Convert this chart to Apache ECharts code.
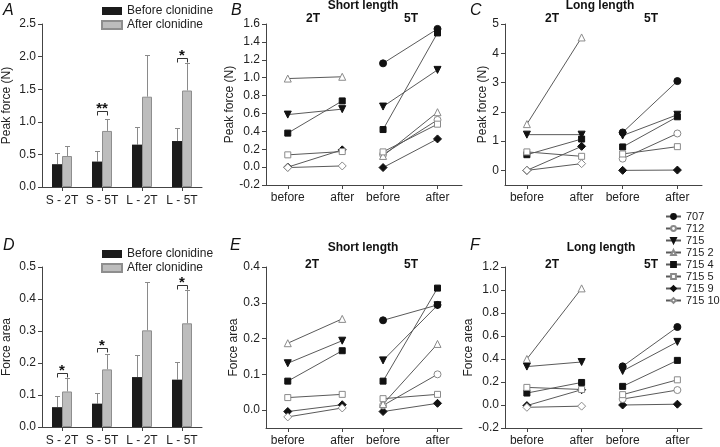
<!DOCTYPE html>
<html><head><meta charset="utf-8">
<script src="https://cdn.jsdelivr.net/npm/echarts@6/dist/echarts.min.js"></script>
<style>html,body{margin:0;padding:0;background:#fff}#c{width:720px;height:447px}</style>
</head><body><div id="c"></div>
<script>
// ---------- data ----------
const barCategories = ['S - 2T', 'S - 5T', 'L - 2T', 'L - 5T'];
const barSeriesNames = ['Before clonidine', 'After clonidine'];
const peakBefore = [0.35, 0.39, 0.65, 0.705];
const peakBeforeErr = [0.17, 0.16, 0.27, 0.205];
const peakAfter = [0.475, 0.86, 1.385, 1.48];
const peakAfterErr = [0.155, 0.19, 0.645, 0.42];
const areaBefore = [0.062, 0.073, 0.156, 0.148];
const areaBeforeErr = [0.034, 0.034, 0.069, 0.056];
const areaAfter = [0.111, 0.18, 0.302, 0.324];
const areaAfterErr = [0.043, 0.048, 0.151, 0.105];
const peakSignifCats = [1, 3];
const peakSignifLevels = [1.17, 1.98];
const peakSignifMarks = ['**', '*'];
const areaSignifCats = [0, 1, 3];
const areaSignifLevels = [0.17, 0.247, 0.444];
const areaSignifMarks = ['*', '*', '*'];

const subjects = ['707', '712', '715', '715 2', '715 4', '715 5', '715 9', '715 10'];
const conditionLabels = ['before', 'after', 'before', 'after'];
const groupLabels = ['2T', '5T'];

// B: short length, peak force
const peakShort2TBefore = [null, null, 0.587, 0.99, 0.38, 0.137, 0.0, -0.005];
const peakShort2TAfter  = [null, null, 0.648, 1.01, 0.74, 0.174, 0.193, 0.013];
const peakShort5TBefore = [1.16, 0.14, 0.677, 0.125, 0.42, 0.17, -0.005, null];
const peakShort5TAfter  = [1.545, 0.528, 1.087, 0.614, 1.50, 0.48, 0.315, null];
// C: long length, peak force
const peakLong2TBefore = [null, null, 1.22, 1.58, 0.535, 0.63, 0.0, 0.0];
const peakLong2TAfter  = [null, null, 1.22, 4.54, 1.07, 0.48, 0.82, 0.23];
const peakLong5TBefore = [1.295, 0.40, 1.19, null, 0.80, 0.56, 0.0, null];
const peakLong5TAfter  = [3.05, 1.26, 1.90, null, 1.83, 0.81, 0.01, null];
// E: short length, force area
const areaShort2TBefore = [null, null, 0.131, 0.187, 0.081, 0.035, -0.004, -0.019];
const areaShort2TAfter  = [null, null, 0.194, 0.255, 0.166, 0.044, 0.015, 0.006];
const areaShort5TBefore = [0.251, 0.013, 0.139, 0.017, 0.081, 0.032, -0.004, null];
const areaShort5TAfter  = [0.294, 0.10, 0.293, 0.185, 0.341, 0.044, 0.019, null];
// F: long length, force area
const areaLong2TBefore = [null, null, 0.334, 0.40, 0.104, 0.153, -0.005, -0.02];
const areaLong2TAfter  = [null, null, 0.374, 1.014, 0.196, 0.135, 0.133, -0.01];
const areaLong5TBefore = [0.336, 0.052, 0.296, null, 0.162, 0.09, 0.0, null];
const areaLong5TAfter  = [0.678, 0.13, 0.549, null, 0.388, 0.219, 0.007, null];

const peakBarTicks = [0, 0.5, 1.0, 1.5, 2.0, 2.5];
const peakShortTicks = [-0.2, 0, 0.2, 0.4, 0.6, 0.8, 1.0, 1.2, 1.4, 1.6];
const peakLongTicks = [0, 1, 2, 3, 4, 5];
const areaBarTicks = [0, 0.1, 0.2, 0.3, 0.4, 0.5];
const areaShortTicks = [0, 0.1, 0.2, 0.3, 0.4];
const areaLongTicks = [-0.2, 0, 0.2, 0.4, 0.6, 0.8, 1.0, 1.2];

// ---------- layout / style ----------
const FONT = "'Liberation Sans', Arial, Helvetica, sans-serif";
const AX = '#444', TXT = '#222';
const xPos = [1, 2, 2.75, 3.75];
const symbolOf = ['circle', 'circle', 'triangle', 'triangle', 'rect', 'rect', 'diamond', 'diamond'];
const filledOf = [true, false, true, false, true, false, true, false];
const rotOf = [0, 0, 180, 0, 0, 0, 0, 0];
const sizeOf = [7, 7, 7, 7, 6, 6, 8, 8];

const grids = [
  {left: 41, top: 24, width: 161, height: 163},
  {left: 266, top: 24, width: 196, height: 161},
  {left: 505, top: 24, width: 197, height: 161},
  {left: 41, top: 267, width: 161, height: 162},
  {left: 266, top: 267, width: 196, height: 162},
  {left: 505, top: 267, width: 197, height: 162}
];

function fmt1(v) { return Math.abs(v) < 1e-9 ? '0.0' : v.toFixed(1); }

function yAx(g, min, max, ticks, name, gap, dec) {
  const f = dec ? fmt1 : (v => String(Math.round(v)));
  return {
    gridIndex: g, type: 'value', min: min, max: max,
    name: name, nameLocation: 'middle', nameGap: gap,
    nameTextStyle: {fontSize: 12, color: TXT, fontFamily: FONT},
    axisLine: {show: true, lineStyle: {color: AX, width: 1}},
    axisTick: {show: true, length: 4, lineStyle: {color: AX}, customValues: ticks},
    axisLabel: {color: TXT, fontSize: 12, fontFamily: FONT, margin: 6, formatter: f, customValues: ticks},
    splitLine: {show: false}
  };
}
function xVal(g) {
  return {
    gridIndex: g, type: 'value', min: 0.6, max: 4.2,
    axisLine: {show: true, onZero: false, lineStyle: {color: AX, width: 1}},
    axisTick: {show: true, length: 4, lineStyle: {color: AX}, customValues: xPos},
    axisLabel: {color: TXT, fontSize: 12, fontFamily: FONT, margin: 7, customValues: xPos,
      formatter: v => { let b = 0; xPos.forEach((p, i) => { if (Math.abs(p - v) < Math.abs(xPos[b] - v)) b = i; }); return conditionLabels[b]; }},
    splitLine: {show: false}
  };
}
function xCat(g) {
  return {
    gridIndex: g, type: 'category', data: barCategories,
    axisLine: {show: true, lineStyle: {color: AX, width: 1}},
    axisTick: {show: true, alignWithLabel: true, interval: 0, length: 4, lineStyle: {color: AX}},
    axisLabel: {color: TXT, fontSize: 12, fontFamily: FONT, margin: 8, interval: 0}
  };
}

const xAxes = [xCat(0), xVal(1), xVal(2), xCat(3), xVal(4), xVal(5)];
const yAxes = [
  yAx(0, 0, 2.5, peakBarTicks, 'Peak force (N)', 29, true),
  yAx(1, -0.2, 1.6, peakShortTicks, 'Peak force (N)', 25, true),
  yAx(2, -0.5, 5, peakLongTicks, 'Peak force (N)', 16, false),
  yAx(3, 0, 0.5, areaBarTicks, 'Force area', 29, true),
  yAx(4, -0.05, 0.4, areaShortTicks, 'Force area', 23, true),
  yAx(5, -0.2, 1.2, areaLongTicks, 'Force area', 23, true)
];

const series = [];
const BAR_W = 10;

function addBars(ax, before, beforeErr, after, afterErr, sCats, sLevels, sMarks) {
  series.push({name: barSeriesNames[0], type: 'bar', xAxisIndex: ax, yAxisIndex: ax, data: before,
    barWidth: BAR_W, barGap: '0%', itemStyle: {color: '#1b1b1b', borderColor: '#1b1b1b', borderWidth: 0}, z: 2});
  series.push({name: barSeriesNames[1], type: 'bar', xAxisIndex: ax, yAxisIndex: ax, data: after,
    barWidth: BAR_W, barGap: '0%', itemStyle: {color: '#bdbdbd', borderColor: '#8e8e8e', borderWidth: 1}, z: 2});
  [[before, beforeErr, -BAR_W / 2], [after, afterErr, BAR_W / 2]].forEach(([m, e, off]) => {
    series.push({type: 'custom', xAxisIndex: ax, yAxisIndex: ax, z: 1, silent: true,
      encode: {x: 0, y: [1, 2]},
      data: m.map((v, i) => [i, v, v + e[i]]),
      renderItem: (params, api) => {
        const p0 = api.coord([api.value(0), api.value(1)]);
        const p1 = api.coord([api.value(0), api.value(2)]);
        const x = Math.round(p0[0] + off) + 0.5;
        const yt = Math.round(p1[1]) + 0.5;
        return {type: 'group', children: [
          {type: 'line', shape: {x1: x, y1: p0[1], x2: x, y2: yt}, style: {stroke: '#8a8a8a', lineWidth: 1}},
          {type: 'line', shape: {x1: x - 2.5, y1: yt, x2: x + 2.5, y2: yt}, style: {stroke: '#8a8a8a', lineWidth: 1}}
        ]};
      }});
  });
  series.push({type: 'custom', xAxisIndex: ax, yAxisIndex: ax, z: 3, silent: true,
    encode: {x: 0, y: 1},
    data: sCats.map((c, i) => [c, sLevels[i]]),
    renderItem: (params, api) => {
      const p = api.coord([api.value(0), api.value(1)]);
      const y = Math.round(p[1]) + 0.5;
      const xl = Math.round(p[0] - BAR_W / 2) + 0.5, xr = Math.round(p[0] + BAR_W / 2) + 0.5;
      const mark = sMarks[params.dataIndex];
      return {type: 'group', children: [
        {type: 'polyline', shape: {points: [[xl, y + 4], [xl, y], [xr, y], [xr, y + 4]]}, style: {stroke: '#333', lineWidth: 1, fill: null}},
        {type: 'text', x: p[0], y: y + 5, style: {text: mark, textAlign: 'center', textVerticalAlign: 'bottom', font: 'bold 15px ' + FONT, fill: '#111'}}
      ]};
    }});
}

addBars(0, peakBefore, peakBeforeErr, peakAfter, peakAfterErr, peakSignifCats, peakSignifLevels, peakSignifMarks);
addBars(3, areaBefore, areaBeforeErr, areaAfter, areaAfterErr, areaSignifCats, areaSignifLevels, areaSignifMarks);

function addPairs(ax, b2, a2, b5, a5) {
  subjects.forEach((name, i) => {
    const v = x => (x === null ? '-' : x);
    const filled = filledOf[i];
    series.push({
      name: name, type: 'line', xAxisIndex: ax, yAxisIndex: ax,
      data: [[xPos[0], v(b2[i])], [xPos[1], v(a2[i])], [2.4, '-'], [xPos[2], v(b5[i])], [xPos[3], v(a5[i])]],
      connectNulls: false,
      symbol: symbolOf[i], symbolSize: sizeOf[i], symbolRotate: rotOf[i], showAllSymbol: true,
      lineStyle: {color: '#5a5a5a', width: 1},
      itemStyle: filled ? {color: '#111', borderColor: '#111', borderWidth: 1}
                        : {color: '#fff', borderColor: '#8a8a8a', borderWidth: 1},
      emphasis: {disabled: true}, z: filled ? 3 : 4
    });
  });
}
addPairs(1, peakShort2TBefore, peakShort2TAfter, peakShort5TBefore, peakShort5TAfter);
addPairs(2, peakLong2TBefore, peakLong2TAfter, peakLong5TBefore, peakLong5TAfter);
addPairs(4, areaShort2TBefore, areaShort2TAfter, areaShort5TBefore, areaShort5TAfter);
addPairs(5, areaLong2TBefore, areaLong2TAfter, areaLong5TBefore, areaLong5TAfter);

function txt(s, x, y, font, align) {
  return {type: 'text', x: x, y: y, silent: true,
    style: {text: s, font: font, fill: '#111', textAlign: align || 'center', textVerticalAlign: 'middle'}};
}
const letterFont = 'italic 16px ' + FONT;
const headFont = 'bold 12px ' + FONT;
const graphics = [
  txt('A', 3, 11, letterFont, 'left'), txt('B', 231, 11, letterFont, 'left'), txt('C', 470, 11, letterFont, 'left'),
  txt('D', 3, 246, letterFont, 'left'), txt('E', 230, 246, letterFont, 'left'), txt('F', 470, 246, letterFont, 'left'),
  txt('Short length', 363, 6, headFont), txt(groupLabels[0], 313, 19, headFont), txt(groupLabels[1], 411, 19, headFont),
  txt('Long length', 600, 6, headFont), txt(groupLabels[0], 552, 19, headFont), txt(groupLabels[1], 651, 19, headFont),
  txt('Short length', 363, 248, headFont), txt(groupLabels[0], 312, 265, headFont), txt(groupLabels[1], 411, 265, headFont),
  txt('Long length', 601, 248, headFont), txt(groupLabels[0], 552, 265, headFont), txt(groupLabels[1], 651, 265, headFont)
];

const barLegend = (top) => ({
  orient: 'vertical', left: 96, top: top, itemWidth: 20, itemHeight: 8, itemGap: 2, itemTextGap: 4,
  icon: 'rect', data: barSeriesNames, selectedMode: false,
  textStyle: {fontSize: 12, color: TXT, fontFamily: FONT}
});

const option = {
  animation: false,
  backgroundColor: '#fff',
  grid: grids,
  xAxis: xAxes,
  yAxis: yAxes,
  legend: [
    barLegend(0),
    barLegend(243),
    {orient: 'vertical', left: 665, top: 211, padding: 0, itemWidth: 15, itemHeight: 6, itemGap: 1, itemTextGap: 3,
     data: subjects, selectedMode: false, textStyle: {fontSize: 11, color: TXT, fontFamily: FONT}}
  ],
  graphic: graphics,
  series: series
};
const chart = echarts.init(document.getElementById('c'), null, {renderer: 'canvas'});
chart.setOption(option);
</script></body></html>
